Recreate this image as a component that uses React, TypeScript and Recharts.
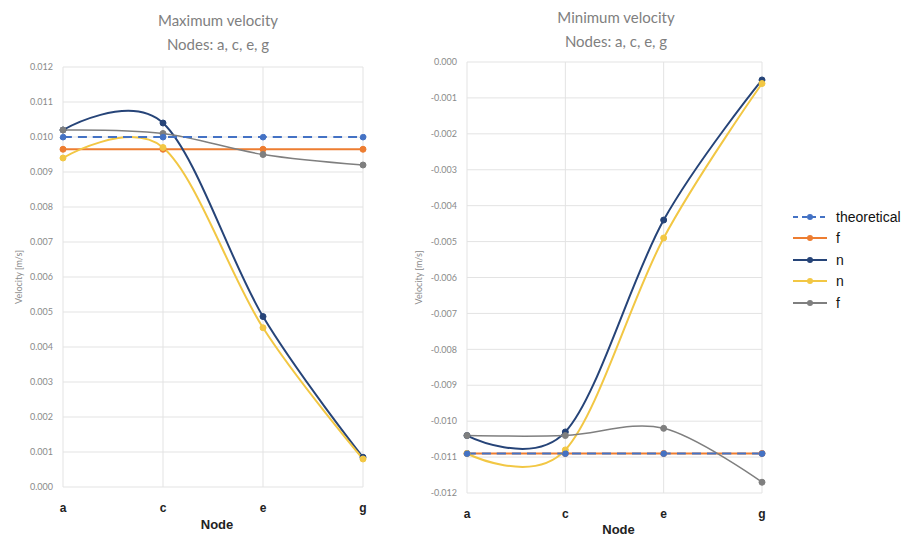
import React from 'react';
import { LineChart, Line, XAxis, YAxis, CartesianGrid } from 'recharts';

// Node positions along the member
const nodes = ['a', 'c', 'e', 'g'];

// Maximum velocity [m/s]
const maxTheoretical = [0.01, 0.01, 0.01, 0.01];
const maxF1 = [0.00965, 0.00965, 0.00965, 0.00965];
const maxN1 = [0.0102, 0.0104, 0.00487, 0.00085];
const maxN2 = [0.0094, 0.0097, 0.00455, 0.0008];
const maxF2 = [0.0102, 0.0101, 0.0095, 0.0092];

// Minimum velocity [m/s]
const minTheoretical = [-0.0109, -0.0109, -0.0109, -0.0109];
const minF1 = [-0.0109, -0.0109, -0.0109, -0.0109];
const minN1 = [-0.0104, -0.0103, -0.0044, -0.0005];
const minN2 = [-0.0109, -0.0108, -0.0049, -0.0006];
const minF2 = [-0.0104, -0.0104, -0.0102, -0.0117];

const maxTicks = [0, 0.001, 0.002, 0.003, 0.004, 0.005, 0.006, 0.007, 0.008, 0.009, 0.01, 0.011, 0.012];
const minTicks = [-0.012, -0.011, -0.01, -0.009, -0.008, -0.007, -0.006, -0.005, -0.004, -0.003, -0.002, -0.001, 0];

const seriesNames = ['theoretical', 'f', 'n', 'n', 'f'];
const seriesKeys = ['theo', 'f1', 'n1', 'n2', 'f2'];
const seriesColors = ['#4472C4', '#ED7D31', '#264478', '#F2C744', '#7F7F7F'];
const seriesWidths = [2, 2, 2, 2, 1.5];
const seriesDash = ['9 6', undefined, undefined, undefined, undefined];

const buildRows = (cols: number[][]) =>
  nodes.map((node, i) => {
    const row: Record<string, string | number> = { node };
    seriesKeys.forEach((k, j) => {
      row[k] = cols[j][i];
    });
    return row;
  });

const maxRows = buildRows([maxTheoretical, maxF1, maxN1, maxN2, maxF2]);
const minRows = buildRows([minTheoretical, minF1, minN1, minN2, minF2]);

// Cardinal spline (tension 0, i.e. Catmull-Rom style) smoothing like spreadsheet charts
function cardinalCurve(context: any) {
  const k = 1 / 6;
  let x0 = NaN, x1 = NaN, x2 = NaN, y0 = NaN, y1 = NaN, y2 = NaN;
  let pt = 0;
  let line = NaN;
  const seg = (x: number, y: number) => {
    context.bezierCurveTo(
      x1 + k * (x2 - x0),
      y1 + k * (y2 - y0),
      x2 + k * (x1 - x),
      y2 + k * (y1 - y),
      x2,
      y2
    );
  };
  return {
    areaStart() { line = 0; },
    areaEnd() { line = NaN; },
    lineStart() {
      x0 = x1 = x2 = y0 = y1 = y2 = NaN;
      pt = 0;
    },
    lineEnd() {
      switch (pt) {
        case 2: context.lineTo(x2, y2); break;
        case 3: seg(x1, y1); break;
      }
      if (line || (line !== 0 && pt === 1)) context.closePath();
      line = 1 - line;
    },
    point(x: number, y: number) {
      x = +x; y = +y;
      switch (pt) {
        case 0:
          pt = 1;
          line ? context.lineTo(x, y) : context.moveTo(x, y);
          break;
        case 1:
          pt = 2;
          x1 = x; y1 = y;
          break;
        case 2:
          pt = 3;
          seg(x, y);
          break;
        default:
          seg(x, y);
          break;
      }
      x0 = x1; x1 = x2; x2 = x;
      y0 = y1; y1 = y2; y2 = y;
    },
  };
}

const tickFont = { fontFamily: 'Lato, sans-serif', fontSize: 9, fill: '#8a8a8a' };
const xTickFont = { fontFamily: '"Liberation Sans", Arial, sans-serif', fontSize: 12, fontWeight: 700, fill: '#222' };

const VelocityLabel = (props: any) => {
  const vb = props.viewBox || {};
  const x = vb.x + 10;
  const y = vb.y + vb.height / 2;
  return (
    <text
      x={x}
      y={y}
      transform={`rotate(-90 ${x} ${y})`}
      textAnchor="middle"
      dominantBaseline="central"
      style={{ fontFamily: 'Lato, sans-serif', fontSize: 9, fill: '#8a8a8a' }}
    >
      Velocity [m/s]
    </text>
  );
};

const NodeLabel = (props: any) => {
  const vb = props.viewBox || {};
  return (
    <text
      x={vb.x + vb.width / 2 + 4}
      y={vb.y + props.dyOff}
      textAnchor="middle"
      style={{ fontFamily: '"Liberation Sans", Arial, sans-serif', fontSize: 13, fontWeight: 700, fill: '#222' }}
    >
      Node
    </text>
  );
};

function renderSeries() {
  // draw order: data series first, theoretical dashed line on top
  const order = [1, 2, 3, 4, 0];
  return order.map((j) => (
    <Line
      key={seriesKeys[j]}
      dataKey={seriesKeys[j]}
      name={seriesNames[j]}
      type={cardinalCurve as any}
      stroke={seriesColors[j]}
      strokeWidth={seriesWidths[j]}
      strokeDasharray={seriesDash[j]}
      dot={{ r: 3, fill: seriesColors[j], stroke: seriesColors[j], strokeWidth: 1 }}
      activeDot={false}
      isAnimationActive={false}
    />
  ));
}

interface PanelProps {
  rows: Record<string, string | number>[];
  ticks: number[];
  domain: [number, number];
  left: number;
  margin: { top: number; right: number; bottom: number; left: number };
  yWidth: number;
  xHeight: number;
  xTickMargin: number;
  nodeDy: number;
}

const Panel = ({ rows, ticks, domain, left, margin, yWidth, xHeight, xTickMargin, nodeDy }: PanelProps) => (
  <div style={{ position: 'absolute', left, top: 0 }}>
    <LineChart width={380} height={538} data={rows} margin={margin}>
      <CartesianGrid stroke="#e3e3e3" strokeWidth={1} />
      <XAxis
        dataKey="node"
        axisLine={false}
        tickLine={false}
        tick={xTickFont}
        tickMargin={xTickMargin}
        height={xHeight}
        label={<NodeLabel dyOff={nodeDy} />}
      />
      <YAxis
        type="number"
        domain={domain}
        ticks={ticks}
        allowDataOverflow
        axisLine={false}
        tickLine={false}
        tick={tickFont}
        tickMargin={4}
        width={yWidth}
        tickFormatter={(v: number) => v.toFixed(3)}
        label={<VelocityLabel />}
      />
      {renderSeries()}
    </LineChart>
  </div>
);

const titleStyle: React.CSSProperties = {
  position: 'absolute',
  width: 300,
  textAlign: 'center',
  fontFamily: 'Lato, sans-serif',
  fontSize: 15,
  color: '#7f7f7f',
  lineHeight: '24px',
};

const Legend = () => (
  <div style={{ position: 'absolute', left: 792, top: 206 }}>
    {seriesNames.map((name, j) => (
      <div key={j} style={{ display: 'flex', alignItems: 'center', height: 21.5 }}>
        <svg width={36} height={12} style={{ marginRight: 8 }}>
          <line
            x1={1}
            y1={6}
            x2={35}
            y2={6}
            stroke={seriesColors[j]}
            strokeWidth={2}
            strokeDasharray={j === 0 ? '5 4' : undefined}
          />
          <circle cx={18} cy={6} r={3} fill={seriesColors[j]} />
        </svg>
        <span style={{ fontFamily: '"Liberation Sans", Arial, sans-serif', fontSize: 14, color: '#111' }}>{name}</span>
      </div>
    ))}
  </div>
);

export default function App() {
  return (
    <div style={{ position: 'absolute', left: 0, top: 0, width: 917, height: 538, background: '#fff', overflow: 'hidden' }}>
      <div style={{ ...titleStyle, left: 68, top: 8 }}>
        Maximum velocity
        <br />
        Nodes: a, c, e, g
      </div>
      <div style={{ ...titleStyle, left: 466, top: 5 }}>
        Minimum velocity
        <br />
        Nodes: a, c, e, g
      </div>
      <Panel
        rows={maxRows}
        ticks={maxTicks}
        domain={[0, 0.012]}
        left={0}
        margin={{ top: 67, right: 17, bottom: 0, left: 8 }}
        yWidth={55}
        xHeight={51}
        xTickMargin={10}
        nodeDy={42}
      />
      <Panel
        rows={minRows}
        ticks={minTicks}
        domain={[-0.012, 0]}
        left={400}
        margin={{ top: 62, right: 18, bottom: 0, left: 8 }}
        yWidth={59}
        xHeight={45}
        xTickMargin={10}
        nodeDy={41}
      />
      <Legend />
    </div>
  );
}
